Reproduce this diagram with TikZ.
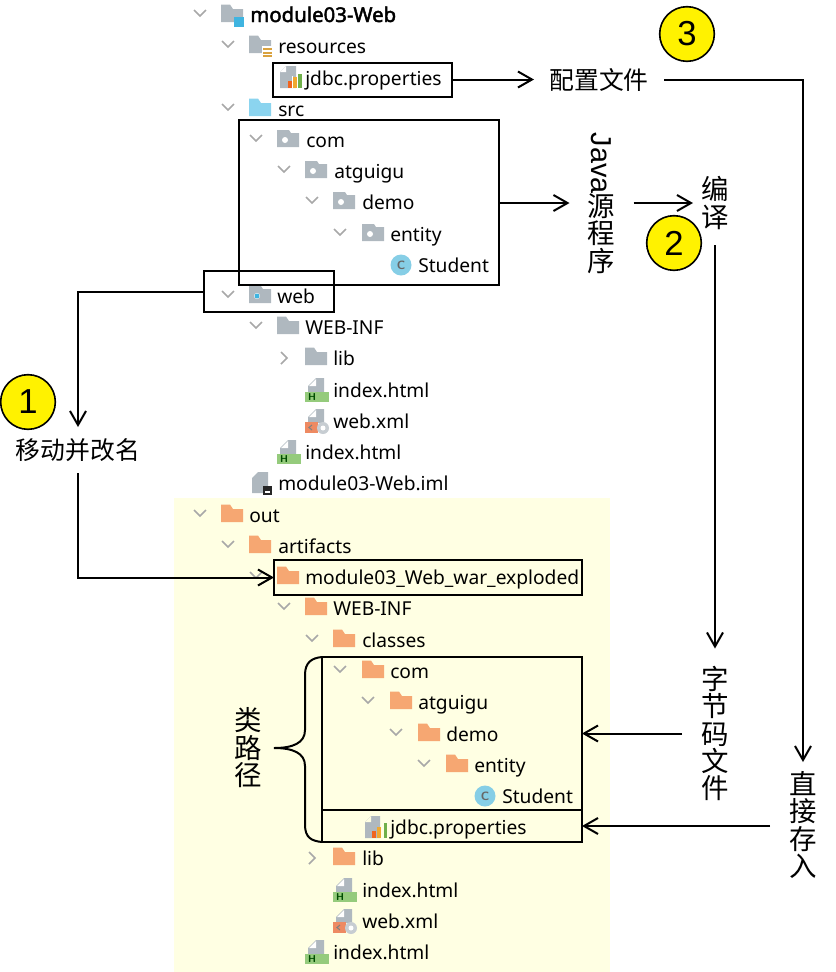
\documentclass[tikz,border=0pt]{standalone}
\usepackage{fontspec}
\setmainfont{Noto Sans}
\newfontfamily\cjk{Noto Sans CJK SC}
\newfontfamily\arialf{Liberation Sans}
\newfontfamily\fakebold{Noto Sans}[FakeBold=2.2]
\usetikzlibrary{arrows.meta}
\definecolor{bgy}{HTML}{FFFFE3}
\definecolor{fgray}{HTML}{AFB8BF}
\definecolor{fblue}{HTML}{8BD4EF}
\definecolor{forange}{HTML}{F6A772}
\definecolor{sqblue}{HTML}{3FB4E0}
\definecolor{stripe}{HTML}{D9A23F}
\definecolor{hgreen}{HTML}{95CB7C}
\definecolor{xorange}{HTML}{EE8A62}
\definecolor{cblue}{HTML}{86CEE6}
\definecolor{chev}{HTML}{A8A8A8}
\definecolor{barO}{HTML}{F0641E}
\definecolor{barY}{HTML}{F0A830}
\definecolor{barG}{HTML}{6FB04A}
\newcommand{\hfont}{\cjk\fontsize{18.6pt}{22pt}\selectfont}
\newcommand{\vfont}{\cjk\fontsize{20.6pt}{20.6pt}\selectfont\lineskiplimit=-10pt\lineskip=0pt}
\tikzset{
  treetext/.style={anchor=base west,inner sep=0pt,font=\fontsize{14.4pt}{16pt}\selectfont,text=black},
  framebox/.style={draw=black,line width=1.5pt,inner sep=0pt,outer sep=0pt},
  label cn/.style={inner sep=0pt,outer sep=0pt,font=\hfont,align=center},
  label vt/.style={inner sep=0pt,outer sep=0pt,font=\vfont,align=center},
  conn/.style={draw=black,line width=1.5pt,-{Straight Barb[length=10.5pt,width=12pt,line width=1.5pt]}},
  badge/.style={circle,draw=black,line width=1.2pt,fill=yellow,minimum size=41pt,inner sep=0pt,font=\arialf\fontsize{26pt}{26pt}\selectfont}
}
\newcommand{\fldr}[3]{\fill[#3,shift={(#1,#2)}] (0,-10.5) -- (9,-10.5) -- (12,-6) -- (22,-6) -- (22,7) -- (0,7) -- cycle;}
\newcommand{\pkg}[2]{\fill[fgray,shift={(#1,#2)}] (0,-10) -- (12,-10) -- (14,-7) -- (22,-7) -- (22,7) -- (0,7) -- cycle;
  \fill[white,shift={(#1,#2)}] (8,0) circle (3);}
\newcommand{\chd}[2]{\draw[chev,line width=1.1pt,shift={(#1,#2)}] (-6,-5) -- (0,1) -- (6,-5);}
\newcommand{\chr}[2]{\draw[chev,line width=1.1pt,shift={(#1,#2)}] (-3,-6) -- (3,0) -- (-3,6);}
\newcommand{\docic}[2]{\fill[fgray,shift={(#1,#2)}] (11,-12) -- (19,-12) -- (19,2) -- (3,2) -- (3,-4) -- cycle;
  \fill[white,shift={(#1,#2)}] (11,-11) -- (11,-4) -- (4,-4) -- cycle;}
\newcommand{\props}[2]{\begin{scope}[shift={(#1,#2)}]
  \fill[fgray] (6,-12) -- (16,-12) -- (16,10) -- (0,10) -- (0,-6) -- cycle;
  \fill[white] (6,-12) -- (6,-6) -- (0,-6) -- cycle;
  \fill[barO] (8,3) rectangle (12,10);
  \fill[white] (12,-2) rectangle (13,10);
  \fill[barY] (13,-1) rectangle (17,10);
  \fill[barG] (18,-4) rectangle (22,10);
\end{scope}}
\newcommand{\propsy}[2]{\begin{scope}[shift={(#1,#2)}]
  \fill[fgray] (6,-11) -- (15,-11) -- (15,11) -- (0,11) -- (0,-5) -- cycle;
  \fill[bgy] (6,-11) -- (6,-5) -- (0,-5) -- cycle;
  \fill[barO] (7,4) rectangle (11,11);
  \fill[barY] (12,0) rectangle (16,11);
  \fill[barG] (19,-4) rectangle (22,11);
\end{scope}}
\newcommand{\htmlic}[2]{\docic{#1}{#2}\fill[hgreen,shift={(#1,#2)}] (0,2) rectangle (24,12);
  \node[inner sep=0pt,font=\sffamily\bfseries\fontsize{7.5pt}{8pt}\selectfont,text=black!70!green] at ([shift={(7,7)}]#1,#2) {H};}
\newcommand{\xmlic}[2]{\docic{#1}{#2}\fill[xorange,shift={(#1,#2)}] (0,1) rectangle (13,12);
  \draw[black!50,line width=0.8pt,shift={(#1,#2)}] (7,4) -- (4,6.5) -- (7,9);
  \fill[fgray!70,shift={(#1,#2)}] (18,7) circle (6);
  \fill[white,shift={(#1,#2)}] (18,7) circle (2.5);}
\newcommand{\cic}[2]{\fill[cblue] (#1,#2) circle (10.5);
  \node[inner sep=0pt,font=\sffamily\bfseries\fontsize{9pt}{9pt}\selectfont,text=black!60] at (#1,#2) {C};}
\newcommand{\row}[4]{\node[treetext] (#1) at (#2,#3+7.3) {#4};}
\begin{document}
\begin{tikzpicture}[x=0.75pt,y=-0.75pt]
\useasboundingbox (0,0) rectangle (836,972);
\fill[bgy] (174,498) rectangle (610,972);

% top tree
\chd{200}{15}\fldr{221}{15}{fgray}\fill[sqblue] (234,17) rectangle (244,27);
\node[treetext,font=\fakebold\fontsize{15.3pt}{17pt}\selectfont] (t1) at (250,22) {module03-Web};
\chd{228}{46}\fldr{249}{46}{fgray}\fill[white] (262,46) rectangle (273,58);
\foreach \s in {48,51.5,55}{\fill[stripe] (263,\s) rectangle (272,\s+2);}
\row{t2}{278}{46}{resources}
\props{280}{78}\row{t3}{305}{78}{jdbc.properties}
\chd{228}{109}\fldr{249}{109}{fblue}\row{t4}{278}{109}{src}
\chd{256}{140}\pkg{277}{140}\row{t5}{306}{140}{com}
\chd{284}{171}\pkg{305}{171}\row{t6}{334}{171}{atguigu}
\chd{312}{202}\pkg{333}{202}\row{t7}{362}{202}{demo}
\chd{340}{234}\pkg{362}{234}\row{t8}{390}{234}{entity}
\cic{401}{265}\row{t9}{418}{265}{Student}
\chd{228}{296}\pkg{249}{296}\fill[sqblue] (257,296) circle (2.5);\row{t10}{277}{296}{web}
\chd{256}{327}\fldr{277}{327}{fgray}\row{t11}{305}{327}{WEB-INF}
\chr{284}{358}\fldr{305}{358}{fgray}\row{t12}{333}{358}{lib}
\htmlic{305}{390}\row{t13}{333}{390}{index.html}
\xmlic{305}{421}\row{t14}{333}{421}{web.xml}
\htmlic{277}{452}\row{t15}{305}{452}{index.html}
\fill[fgray] (258,472) -- (268,472) -- (268,493) -- (252,493) -- (252,478) -- cycle;
\fill[black!85] (263,486) rectangle (272,495);\fill[white] (265,491) rectangle (270,493);
\row{t16}{278}{483}{module03-Web.iml}

% out tree
\chd{200}{515}\fldr{221}{515}{forange}\row{u1}{249}{515}{out}
\chd{228}{546}\fldr{249}{546}{forange}\row{u2}{278}{546}{artifacts}
\chd{256}{577}\fldr{277}{577}{forange}\row{u3}{305}{577}{module03\_Web\_war\_exploded}
\chd{284}{608}\fldr{305}{608}{forange}\row{u4}{333}{608}{WEB-INF}
\chd{312}{640}\fldr{333}{640}{forange}\row{u5}{362}{640}{classes}
\chd{340}{671}\fldr{362}{671}{forange}\row{u6}{390}{671}{com}
\chd{368}{702}\fldr{390}{702}{forange}\row{u7}{418}{702}{atguigu}
\chd{396}{734}\fldr{418}{734}{forange}\row{u8}{446}{734}{demo}
\chd{424}{765}\fldr{446}{765}{forange}\row{u9}{474}{765}{entity}
\cic{485}{796}\row{u10}{502}{796}{Student}
\propsy{365}{827}\row{u11}{390}{827}{jdbc.properties}
\chr{312}{858}\fldr{333}{858}{forange}\row{u12}{362}{858}{lib}
\htmlic{333}{890}\row{u13}{362}{890}{index.html}
\xmlic{333}{921}\row{u14}{362}{921}{web.xml}
\htmlic{305}{952}\row{u15}{333}{952}{index.html}

% frames
\node[framebox,minimum width=134.25pt,minimum height=25.5pt] (bjdbc) at (362.5,79.5) {};
\node[framebox,minimum width=195pt,minimum height=123.75pt] (bsrc) at (369,202.5) {};
\node[framebox,minimum width=97.5pt,minimum height=30.75pt] (bweb) at (269,291.5) {};
\node[framebox,minimum width=231pt,minimum height=26.25pt] (bmod) at (428,577.5) {};
\node[framebox,minimum width=195pt,minimum height=114.75pt] (bcls) at (452,733.5) {};
\node[framebox,minimum width=195pt,minimum height=24pt] (bprop) at (452,826) {};

% labels
\node[label cn,minimum width=97.5pt,minimum height=22.5pt] (cfg) at (599,79.5) {配置文件};
\node[label vt,minimum width=48pt,minimum height=109.5pt] (java) at (601.5,203) {\rotatebox{-90}{\arialf\fontsize{21.6pt}{21.6pt}\selectfont Java}\\源\\程\\序};
\node[label vt,minimum width=33pt,minimum height=63pt] (comp) at (715,203) {编\\译};
\node[label vt,minimum width=49.5pt,minimum height=127.5pt] (byte) at (715,733.5) {字\\节\\码\\文\\件};
\node[label vt,minimum width=49.5pt,minimum height=94.5pt] (direct) at (803,825) {直\\接\\存\\入};
\node[label cn,minimum width=97.5pt,minimum height=34.5pt] (move) at (78,450) {移动并改名};
\node[label vt] (cp) at (248,748) {类\\路\\径};

% badges
\node[badge] (c1) at (28,402) {1};
\node[badge] (c2) at (674,243) {2};
\node[badge] (c3) at (687,34) {3};

% connectors
\draw[conn] (bjdbc.east) -- (cfg.west);
\draw[conn] (cfg.east) -| (direct.north);
\draw[conn] (bsrc.east |- java.west) -- (java.west);
\draw[conn] (java.east) -- (comp.west);
\draw[conn] (comp.south) -- (byte.north);
\draw[conn] (byte.west) -- (bcls.east);
\draw[conn] (direct.west |- bprop.east) -- (bprop.east);
\draw[conn] (bweb.west) -| (move.north);
\draw[conn] (move.south) |- (bmod.west);

% brace
\coordinate (btip) at (274,748);
\draw[line width=1.5pt,black] (bcls.north west) .. controls (312,658) and (305,662) .. (305,675)
  -- (305,730) .. controls (305,743) and (293,748) .. (btip)
  .. controls (293,748) and (305,753) .. (305,766)
  -- (305,825) .. controls (305,838) and (312,841) .. (bprop.south west);
\end{tikzpicture}
\end{document}
